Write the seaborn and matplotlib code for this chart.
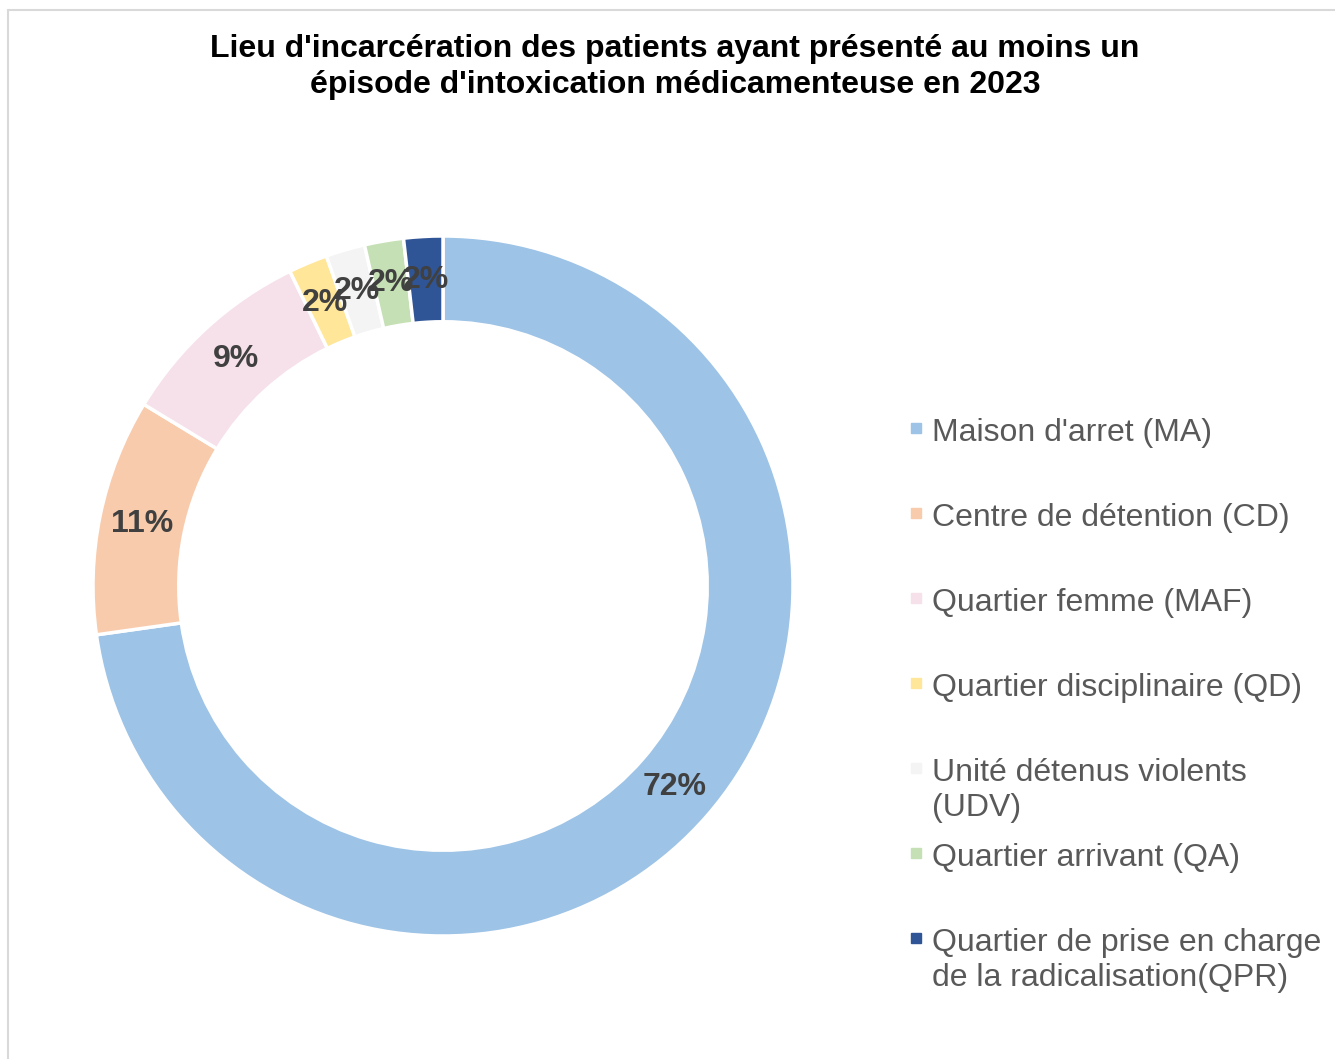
"""Donut chart: lieu d'incarcération des patients (intoxication médicamenteuse 2023)."""

import matplotlib
matplotlib.use("Agg")
import matplotlib.pyplot as plt
from matplotlib.lines import Line2D
from matplotlib.patches import Rectangle
import seaborn as sns

# Data
categories = [
    "Maison d'arret (MA)",
    "Centre de détention (CD)",
    "Quartier femme (MAF)",
    "Quartier disciplinaire (QD)",
    "Unité détenus violents\n(UDV)",
    "Quartier arrivant (QA)",
    "Quartier de prise en charge\nde la radicalisation(QPR)",
]
shares = [72.7, 10.9, 9.1, 1.8, 1.8, 1.8, 1.8]
pct_labels = ["72%", "11%", "9%", "2%", "2%", "2%", "2%"]
colors = ["#9DC3E6", "#F8CBAD", "#F6E1EB", "#FFE699", "#F4F4F4", "#C5E0B4", "#2F5597"]
title = ("Lieu d'incarcération des patients ayant présenté au moins un\n"
         "épisode d'intoxication médicamenteuse en 2023")

sns.set_theme(style="white")
plt.rcParams["font.family"] = ["Liberation Sans", "DejaVu Sans"]

W, H = 1335, 1059
fig = plt.figure(figsize=(W / 100, H / 100), dpi=100)

# Chart area border (top and left edges visible)
fig.add_artist(Line2D([8 / W, 8 / W], [0, 1 - 10 / H], color="#D9D9D9", lw=1.5))
fig.add_artist(Line2D([8 / W, 1], [1 - 10 / H, 1 - 10 / H], color="#D9D9D9", lw=1.5))

fig.text(675 / W, 1 - 67 / H, title, ha="center", va="center",
         fontsize=23, fontweight="bold", color="black", linespacing=1.3)

# Donut
cx, cy, r = 443, 586, 350
ax = fig.add_axes([(cx - r) / W, 1 - (cy + r) / H, 2 * r / W, 2 * r / H])
wedges, texts = ax.pie(
    shares, colors=colors, startangle=90, counterclock=False, radius=1,
    wedgeprops=dict(width=0.245, edgecolor="white", linewidth=2.5),
    labels=pct_labels, labeldistance=0.877,
    textprops=dict(fontsize=23, fontweight="bold", color="#404040",
                   ha="center", va="center"),
)
for t in texts:
    t.set_horizontalalignment("center")
    t.set_verticalalignment("center")
ax.set_xlim(-1, 1)
ax.set_ylim(-1, 1)
ax.set_aspect("equal")
ax.axis("off")

# Legend drawn manually so wrapped labels align on their first line
for i, (lab, col) in enumerate(zip(categories, colors)):
    y = 430 + 85 * i
    fig.add_artist(Rectangle((911 / W, 1 - (y + 3) / H), 10 / W, 10 / H,
                             color=col, transform=fig.transFigure))
    fig.text(932 / W, 1 - (y - 12) / H, lab, ha="left", va="top",
             fontsize=23, color="#595959", linespacing=1.2)

fig.savefig("out.png", dpi=100, facecolor="white")
